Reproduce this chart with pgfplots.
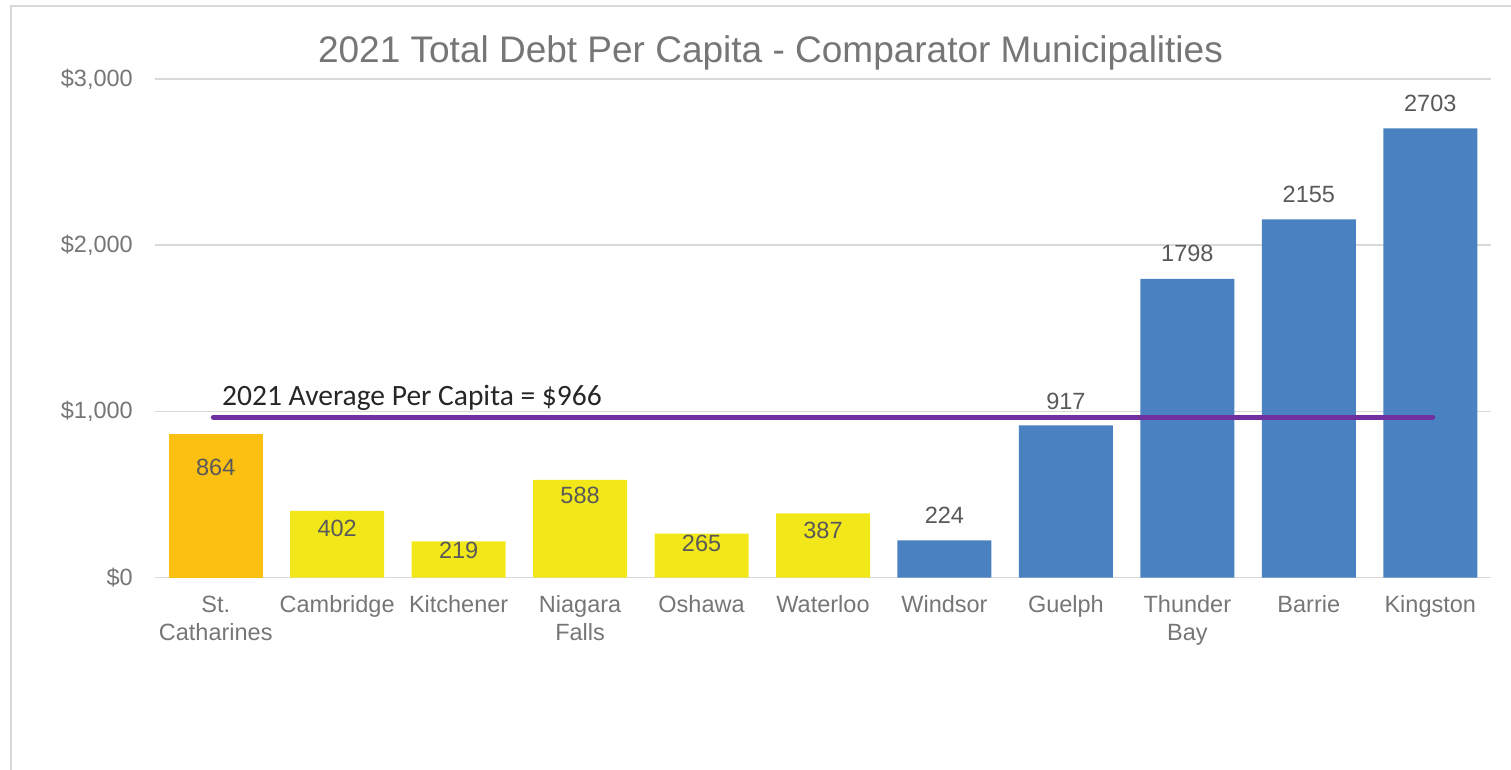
\documentclass[border=0pt]{standalone}
\usepackage{pgfplots}
\pgfplotsset{compat=1.18}
\usepackage{pgfplotstable}
\usepackage{fontspec}
\setmainfont{Liberation Sans}
\newfontfamily\calibri{Carlito}
\definecolor{ora}{HTML}{FBC012}
\definecolor{yel}{HTML}{F2E819}
\definecolor{blu}{HTML}{4A81C0}
\definecolor{gridc}{HTML}{D9D9D9}
\definecolor{tickc}{HTML}{767676}
\definecolor{labc}{HTML}{595959}
\definecolor{avgc}{HTML}{7030A0}
\pgfplotstableread{
x y dy
0 864 -33.5
}\orangetab
\pgfplotstableread{
x y dy
1 402 -18
2 219 -9
3 588 -15
4 265 -10
5 387 -17
}\yeltab
\pgfplotstableread{
x y dy
6 224 25
7 917 24
8 1798 25
9 2155 25.5
10 2703 25
}\blutab
\begin{document}
\begin{tikzpicture}
\useasboundingbox (0,0) rectangle (1511pt,770pt);
\draw[draw=gridc, line width=2pt] (11pt,0pt) -- (11pt,764pt) -- (1511pt,764pt);
\node[font=\fontsize{37}{44}\selectfont, text=tickc, anchor=base, inner sep=0pt] at (770.5pt,707.5pt) {2021 Total Debt Per Capita - Comparator Municipalities};
\begin{axis}[
  at={(155pt,192.3pt)}, anchor=south west,
  scale only axis, width=1336pt, height=498.7pt,
  xmin=-0.5, xmax=10.5, ymin=0, ymax=3000,
  axis line style={draw=none},
  major tick length=0pt,
  ytick={0,1000,2000,3000},
  yticklabels={{\$0},{\$1,000},{\$2,000},{\$3,000}},
  ymajorgrids,
  grid style={draw=gridc, line width=1.5pt},
  xtick={0,1,2,3,4,5,6,7,8,9,10},
  xticklabels={{St.\\Catharines},{Cambridge},{Kitchener},{Niagara\\Falls},{Oshawa},{Waterloo},{Windsor},{Guelph},{Thunder\\Bay},{Barrie},{Kingston}},
  xticklabel style={align=center, anchor=north, inner sep=0pt, yshift=-18pt, font=\fontsize{23.5}{28}\selectfont, text=tickc},
  yticklabel style={anchor=east, inner sep=0pt, xshift=-22pt, font=\fontsize{23.5}{28}\selectfont, text=tickc},
  clip=false,
]
\addplot[ybar, bar width=94pt, bar shift=0pt, fill=ora, draw=none,
  point meta=explicit symbolic, nodes near coords,
  visualization depends on={\thisrow{dy} \as \dy},
  every node near coord/.append style={anchor=center, yshift=\dy, font=\fontsize{23.5}{28}\selectfont, text=labc}]
  table[x=x, y=y, meta=y] {\orangetab};
\addplot[ybar, bar width=94pt, bar shift=0pt, fill=yel, draw=none,
  point meta=explicit symbolic, nodes near coords,
  visualization depends on={\thisrow{dy} \as \dy},
  every node near coord/.append style={anchor=center, yshift=\dy, font=\fontsize{23.5}{28}\selectfont, text=labc}]
  table[x=x, y=y, meta=y] {\yeltab};
\addplot[ybar, bar width=94pt, bar shift=0pt, fill=blu, draw=none,
  point meta=explicit symbolic, nodes near coords,
  visualization depends on={\thisrow{dy} \as \dy},
  every node near coord/.append style={anchor=center, yshift=\dy, font=\fontsize{23.5}{28}\selectfont, text=labc}]
  table[x=x, y=y, meta=y] {\blutab};
\addplot[draw=avgc, line width=5pt, line cap=round, sharp plot, no marks] coordinates {(-0.02,966) (10.02,966)};
\node[font=\calibri\fontsize{29.5}{35}\selectfont, text=black!85, anchor=base west, inner sep=0pt] at (axis cs:0.052,1033) {2021 Average Per Capita = \$966};
\end{axis}
\end{tikzpicture}
\end{document}
